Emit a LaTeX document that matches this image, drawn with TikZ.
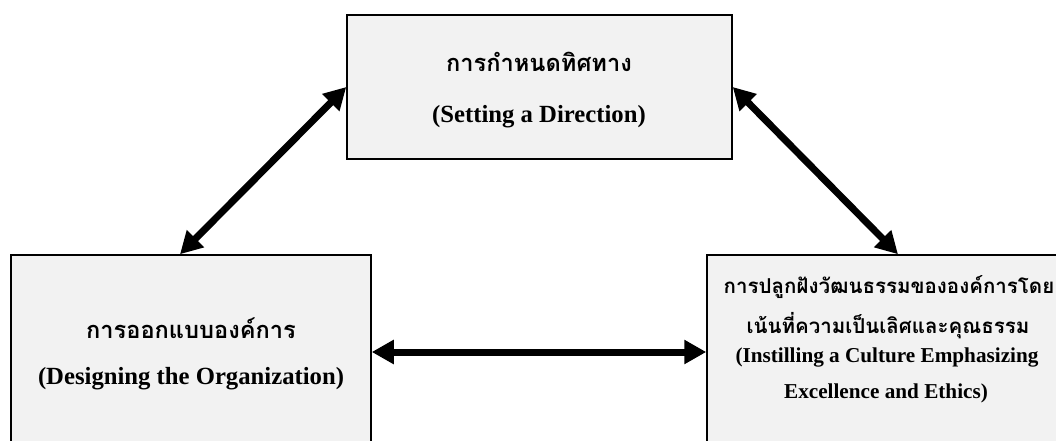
\documentclass[tikz,border=0pt]{standalone}
\usepackage{fontspec}
\setmainfont{Liberation Serif}
\newfontfamily\thaifont[Script=Thai]{Loma}
\usetikzlibrary{arrows.meta}
\begin{document}
\begin{tikzpicture}[x=1pt,y=-1pt,
  panel/.style={draw=black,line width=1.5pt,fill=black!5,rectangle,inner sep=0pt},
  thaibig/.style={font=\thaifont\bfseries\fontsize{23.6}{28}\selectfont,anchor=base,inner sep=0pt},
  thaismall/.style={font=\thaifont\bfseries\fontsize{20.5}{24}\selectfont,anchor=base,inner sep=0pt},
  engbig/.style={font=\bfseries\fontsize{24.7}{28}\selectfont,anchor=base,inner sep=0pt},
  engsmall/.style={font=\bfseries\fontsize{21.2}{25}\selectfont,anchor=base,inner sep=0pt},
  link/.style={line width=7pt,{Triangle[length=22pt,width=23pt]}-{Triangle[length=22pt,width=23pt]}}
]
\useasboundingbox (0,0) rectangle (1056,441);
\clip (0,0) rectangle (1056,441);

% the three panels
\node[panel,minimum width=385pt,minimum height=144pt] (T) at (539.5,87) {};
\node[panel,minimum width=360pt,minimum height=194pt] (L) at (191,352) {};
\node[panel,minimum width=360pt,minimum height=194pt] (R) at (887,352) {};

% panel labels
\node[thaibig] (t1) at (539,72) {การกำหนดทิศทาง};
\node[engbig]  (t2) at (539,122) {(Setting a Direction)};

\node[thaibig] (l1) at (191,338) {การออกแบบองค์การ};
\node[engbig]  (l2) at (191,384) {(Designing the Organization)};

\node[thaismall] (r1) at (889,293) {การปลูกฝังวัฒนธรรมขององค์การโดย};
\node[thaismall] (r2) at (888,333) {เน้นที่ความเป็นเลิศและคุณธรรม};
\node[engsmall] (r3) at (887,362) {(Instilling a Culture Emphasizing};
\node[engsmall] (r4) at (886,398) {Excellence and Ethics)};

% two-way links between the panels
\draw[link] ([xshift=-11pt]L.north) -- (T.west);
\draw[link] (T.east) -- ([xshift=11pt]R.north);
\draw[link] (L.east) -- (R.west);
\end{tikzpicture}
\end{document}
